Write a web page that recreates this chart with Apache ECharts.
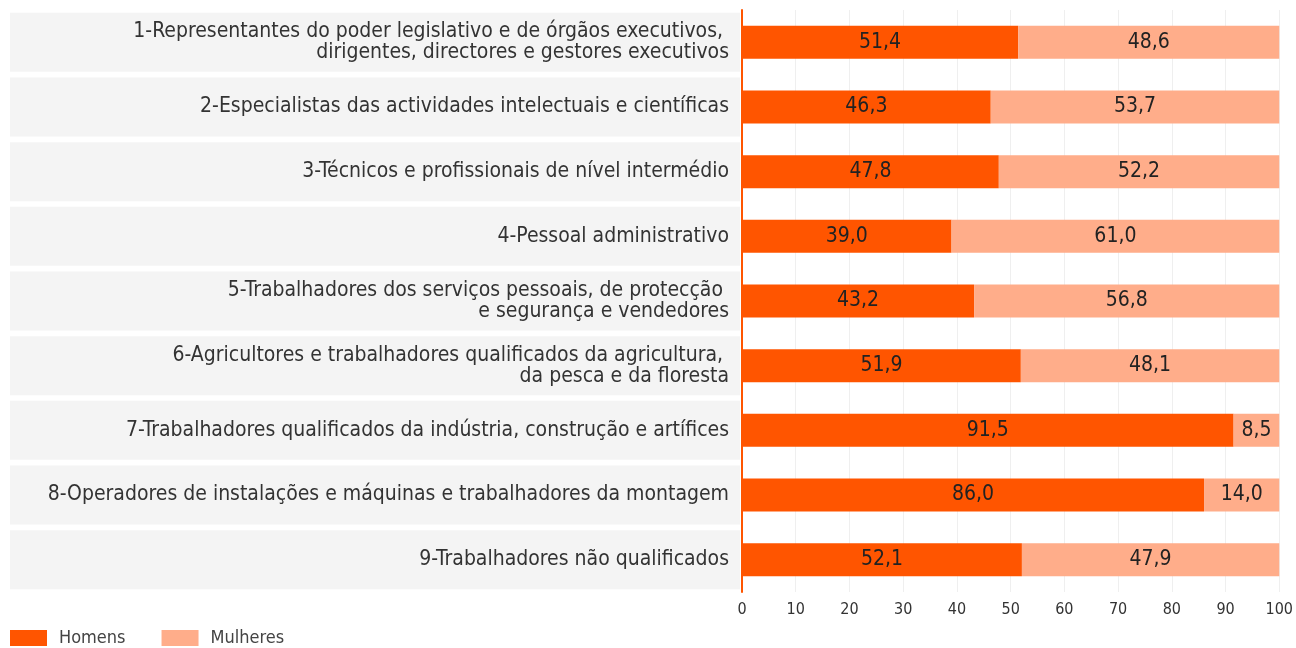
<!DOCTYPE html>
<html>
<head>
<meta charset="utf-8">
<script src="https://cdn.jsdelivr.net/npm/echarts@6/dist/echarts.min.js"></script>
<style>
  html, body { margin: 0; padding: 0; background: #fff; }
  #chart { width: 1296px; height: 648px; }
</style>
</head>
<body>
<div id="chart"></div>
<script>
const categories = [
  "1-Representantes do poder legislativo e de órgãos executivos, \ndirigentes, directores e gestores executivos",
  "2-Especialistas das actividades intelectuais e científicas",
  "3-Técnicos e profissionais de nível intermédio",
  "4-Pessoal administrativo",
  "5-Trabalhadores dos serviços pessoais, de protecção \ne segurança e vendedores",
  "6-Agricultores e trabalhadores qualificados da agricultura, \nda pesca e da floresta",
  "7-Trabalhadores qualificados da indústria, construção e artífices",
  "8-Operadores de instalações e máquinas e trabalhadores da montagem",
  "9-Trabalhadores não qualificados"
];
const homens = [51.4, 46.3, 47.8, 39.0, 43.2, 51.9, 91.5, 86.0, 52.1];
const mulheres = [48.6, 53.7, 52.2, 61.0, 56.8, 48.1, 8.5, 14.0, 47.9];
const xTicks = [0, 10, 20, 30, 40, 50, 60, 70, 80, 90, 100];

const FONT = '"DejaVu Sans Condensed", "Liberation Sans Narrow", "Roboto", sans-serif';
const fmt = (p) => p.value.toFixed(1).replace(".", ",");

const chart = echarts.init(document.getElementById("chart"));
chart.setOption({
  animation: false,
  textStyle: { fontFamily: FONT },
  legend: {
    left: 5,
    top: 624,
    itemWidth: 37,
    itemHeight: 16,
    itemGap: 36,
    icon: "rect",
    textStyle: { fontSize: 18, color: "#444", fontFamily: FONT, padding: [0, 0, 0, 7] },
    data: ["Homens", "Mulheres"]
  },
  grid: [
    { left: 742, right: 15, top: 10, bottom: 56 },
    { left: 10, width: 730, top: 10, bottom: 56 }
  ],
  xAxis: [
    {
      gridIndex: 0,
      type: "value",
      min: xTicks[0],
      max: xTicks[xTicks.length - 1],
      interval: 10,
      axisLine: { show: false },
      axisTick: { show: false },
      splitLine: { lineStyle: { color: "#efefef" } },
      axisLabel: { fontSize: 16, color: "#333", margin: 10, fontFamily: FONT }
    },
    { gridIndex: 1, type: "value", min: 0, max: 1, show: false }
  ],
  yAxis: [
    {
      gridIndex: 0,
      type: "category",
      inverse: true,
      data: categories,
      z: 5,
      axisLine: { lineStyle: { color: "#ff5500", width: 2 } },
      axisTick: { show: false },
      axisLabel: { show: false }
    },
    {
      gridIndex: 1,
      type: "category",
      inverse: true,
      data: categories,
      show: false
    }
  ],
  series: [
    {
      name: "bg",
      type: "bar",
      xAxisIndex: 1,
      yAxisIndex: 1,
      data: categories.map(() => 1),
      barWidth: 59,
      silent: true,
      itemStyle: { color: "#f4f4f4" },
      label: {
        show: true,
        position: "insideRight",
        distance: 11,
        formatter: (p) => p.name,
        fontSize: 21,
        lineHeight: 21,
        color: "#333",
        fontFamily: FONT
      }
    },
    {
      name: "Homens",
      type: "bar",
      stack: "total",
      barWidth: 33,
      data: homens,
      itemStyle: { color: "#ff5500" },
      label: { show: true, position: "inside", formatter: fmt, fontSize: 21, color: "#222", fontFamily: FONT }
    },
    {
      name: "Mulheres",
      type: "bar",
      stack: "total",
      barWidth: 33,
      data: mulheres,
      itemStyle: { color: "#ffad8a" },
      label: { show: true, position: "inside", formatter: fmt, fontSize: 21, color: "#222", fontFamily: FONT }
    }
  ]
});
</script>
</body>
</html>
